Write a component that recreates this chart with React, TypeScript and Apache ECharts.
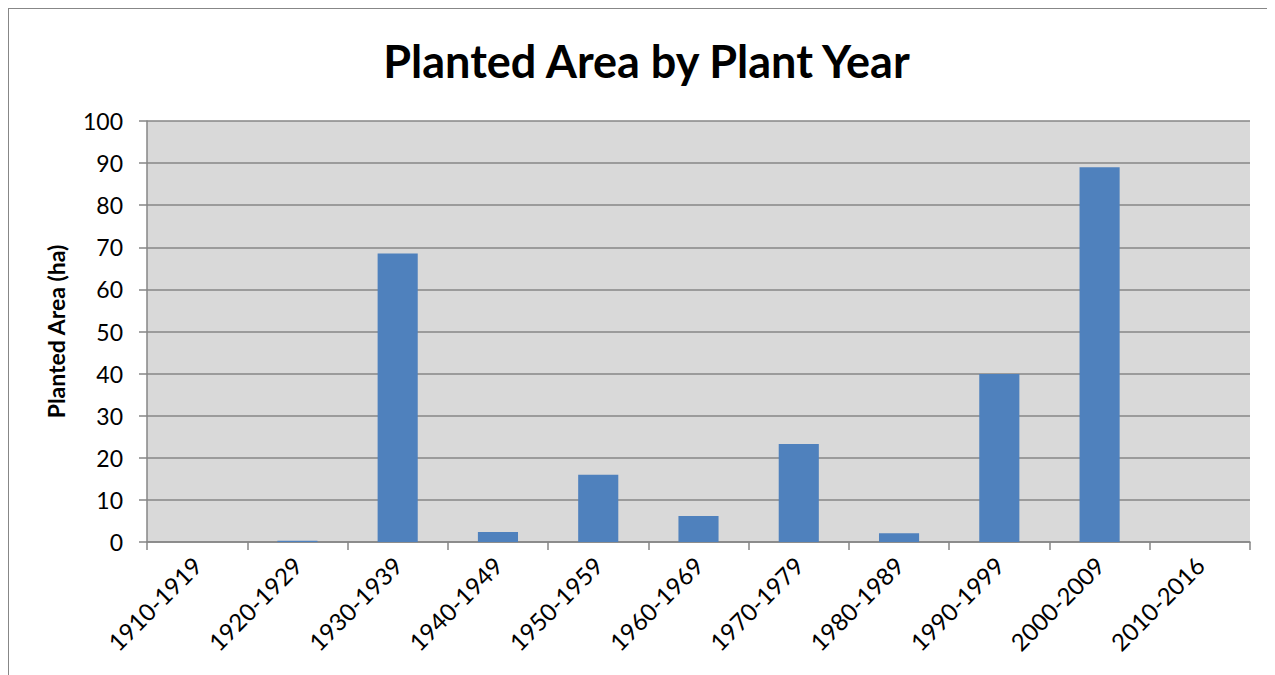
import React, { useEffect, useRef } from "react";
import * as echarts from "echarts";

const categories = [
  "1910-1919", "1920-1929", "1930-1939", "1940-1949", "1950-1959", "1960-1969",
  "1970-1979", "1980-1989", "1990-1999", "2000-2009", "2010-2016",
];
const plantedArea = [0, 0.3, 68.5, 2.4, 16.0, 6.2, 23.3, 2.1, 39.9, 89.0, 0];
const yMin = 0;
const yMax = 100;
const yInterval = 10;

const FONT = "Lato";

export default function App() {
  const ref = useRef<HTMLDivElement>(null);
  useEffect(() => {
    if (!ref.current) return;
    const chart = echarts.init(ref.current, null, { renderer: "svg" });
    chart.setOption({
      animation: false,
      title: {
        text: "Planted Area by Plant Year",
        left: "center",
        top: 24,
        textStyle: { fontFamily: FONT, fontSize: 45, fontWeight: "bold", color: "#000" },
      },
      grid: { left: 138, top: 112, width: 1103, height: 421, backgroundColor: "#d9d9d9", show: true, borderWidth: 0 },
      xAxis: {
        type: "category",
        data: categories,
        boundaryGap: true,
        axisLine: { lineStyle: { color: "#868686", width: 1.5 } },
        axisTick: { show: true, length: 8, alignWithLabel: false, lineStyle: { color: "#868686", width: 1.5 } },
        axisLabel: { rotate: 45, margin: 19, fontFamily: FONT, fontSize: 24, color: "#000", interval: 0 },
      },
      yAxis: {
        type: "value",
        min: yMin,
        max: yMax,
        interval: yInterval,
        name: "Planted Area (ha)",
        nameLocation: "middle",
        nameGap: 80,
        nameTextStyle: { fontFamily: FONT, fontSize: 23, fontWeight: "bold", color: "#000" },
        axisLine: { show: true, lineStyle: { color: "#868686", width: 1.5 } },
        axisTick: { show: true, length: 8, lineStyle: { color: "#868686", width: 1.5 } },
        axisLabel: { margin: 24, fontFamily: FONT, fontSize: 23, color: "#000" },
        splitLine: { show: true, lineStyle: { color: "#868686", width: 1.5 } },
      },
      series: [
        {
          type: "bar",
          data: plantedArea,
          barWidth: "40%",
          itemStyle: { color: "#4f81bd", borderWidth: 0 },
        },
      ],
    });
    return () => chart.dispose();
  }, []);
  return (
    <div
      style={{
        width: 1275,
        height: 675,
        borderTop: "1.5px solid #878787",
        borderLeft: "1.5px solid #878787",
        boxSizing: "border-box",
        background: "#fff",
      }}
    >
      <div ref={ref} style={{ width: 1275, height: 675 }} />
    </div>
  );
}
